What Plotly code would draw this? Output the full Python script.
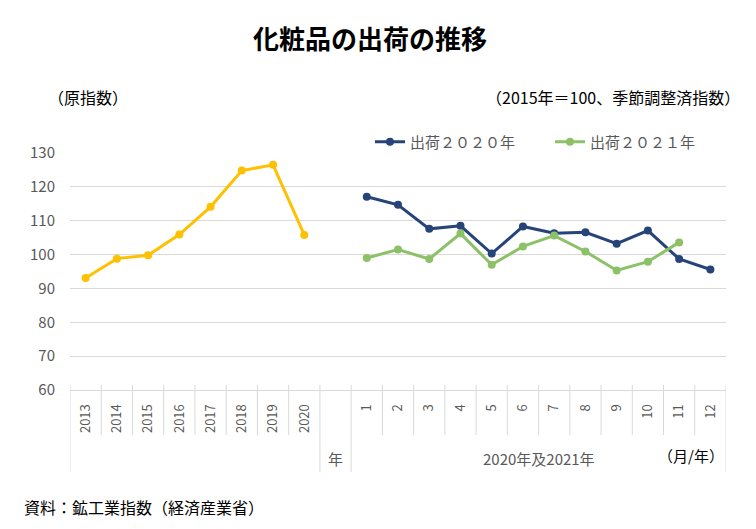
import plotly.graph_objects as go

# ---- data ----
years = ["2013", "2014", "2015", "2016", "2017", "2018", "2019", "2020"]
year_values = [93.1, 98.8, 99.8, 105.9, 114.1, 124.8, 126.5, 105.8]
months = ["1", "2", "3", "4", "5", "6", "7", "8", "9", "10", "11", "12"]
ship_2020 = [117.1, 114.7, 107.6, 108.5, 100.3, 108.3, 106.3, 106.6, 103.2, 107.1, 98.7, 95.6]
ship_2021 = [99.0, 101.5, 98.7, 106.2, 97.0, 102.4, 105.6, 100.9, 95.3, 97.9, 103.6]
gap_label = ""
group_year_label = "年"
group_month_label = "2020年及2021年"
y_ticks = [60, 70, 80, 90, 100, 110, 120, 130]

FONT = "Noto Sans CJK JP"
GRID = "#d9d9d9"
TXT = "#595959"

tick_labels = years + [gap_label] + months
n = len(tick_labels)
x_years = list(range(len(years)))
x_months = [len(years) + 1 + i for i in range(len(months))]

fig = go.Figure()
fig.add_trace(go.Scatter(x=x_years, y=year_values, mode="lines+markers",
                         line=dict(color="#FFC000", width=3),
                         marker=dict(size=8, color="#FFC000"),
                         showlegend=False, name="年"))
fig.add_trace(go.Scatter(x=x_months, y=ship_2020, mode="lines+markers",
                         line=dict(color="#264478", width=3),
                         marker=dict(size=8, color="#264478"),
                         name="出荷２０２０年"))
fig.add_trace(go.Scatter(x=x_months[:len(ship_2021)], y=ship_2021, mode="lines+markers",
                         line=dict(color="#8CC168", width=3),
                         marker=dict(size=8, color="#8CC168"),
                         name="出荷２０２１年"))

W, H = 756, 529
L, R, T, B = 70, 30, 153, 139
PW, PH = W - L - R, H - T - B


def px(xp, yp):
    return (xp - L) / PW, (H - B - yp) / PH


def py(yp):
    return (H - B - yp) / PH


shapes = []
for i in range(n + 1):
    b = i - 0.5
    shapes.append(dict(type="line", xref="x", yref="y domain", x0=b, x1=b,
                       y0=py(385), y1=py(435), line=dict(color=GRID, width=1)))
for b in [-0.5, len(years) - 0.5, len(years) + 0.5, n - 0.5]:
    shapes.append(dict(type="line", xref="x", yref="y domain", x0=b, x1=b,
                       y0=py(435), y1=py(472), line=dict(color=GRID, width=1)))

annotations = []
tx, ty = px(370, 38)
annotations.append(dict(text="<b>化粧品の出荷の推移</b>", x=tx, y=ty, xref="paper", yref="paper",
                        xanchor="center", yanchor="middle",
                        showarrow=False, font=dict(size=26, color="#000000", family=FONT)))
annotations.append(dict(text=group_year_label, xref="x", yref="y domain", x=len(years),
                        y=py(458), xanchor="center", yanchor="middle", showarrow=False,
                        font=dict(size=15, color=TXT, family=FONT)))
annotations.append(dict(text=group_month_label, xref="x", yref="y domain",
                        x=(x_months[0] + x_months[-1]) / 2, y=py(458),
                        xanchor="center", yanchor="middle", showarrow=False,
                        font=dict(size=15, color=TXT, family=FONT)))
annotations.append(dict(text="（月/年）", xref="x", yref="y domain", x=x_months[-1] + 0.5,
                        xanchor="right", yanchor="middle", y=py(455), showarrow=False,
                        font=dict(size=15, color="#000000", family=FONT)))
lx, ly = px(46, 97)
annotations.append(dict(text="（原指数）", x=lx, y=ly, xref="paper", yref="paper",
                        xanchor="left", yanchor="middle", showarrow=False,
                        font=dict(size=16, color="#000000", family=FONT)))
rx, ry = px(742, 97)
annotations.append(dict(text="（2015年＝100、季節調整済指数）", x=rx, y=ry, xref="paper",
                        yref="paper", xanchor="right", yanchor="middle", showarrow=False,
                        font=dict(size=16, color="#000000", family=FONT)))
sx, sy = px(22, 507)
annotations.append(dict(text="資料：鉱工業指数（経済産業省）", x=sx, y=sy, xref="paper",
                        yref="paper", xanchor="left", yanchor="middle", showarrow=False,
                        font=dict(size=16, color="#000000", family=FONT)))

legx, legy = px(370, 142)

fig.update_layout(
    width=W, height=H,
    margin=dict(l=L, r=R, t=T, b=B),
    paper_bgcolor="white", plot_bgcolor="white",
    font=dict(family=FONT, color=TXT),
    showlegend=True,
    legend=dict(orientation="h", x=legx, y=legy, xanchor="left", yanchor="middle",
                font=dict(size=15, color=TXT, family=FONT), entrywidth=135,
                itemwidth=30, bgcolor="rgba(0,0,0,0)"),
    xaxis=dict(range=[-0.5, n - 0.5], tickmode="array",
               tickvals=list(range(n)), ticktext=tick_labels, tickangle=-90,
               showgrid=False, zeroline=False, showline=True, linecolor=GRID,
               ticks="", tickfont=dict(size=13, color=TXT, family=FONT),
               ticklabelstandoff=8, fixedrange=True),
    yaxis=dict(range=[60, 130], tickvals=y_ticks, showgrid=True, gridcolor=GRID,
               zeroline=False, showline=False, ticks="",
               tickfont=dict(size=15, color=TXT, family=FONT), ticklabelstandoff=14,
               fixedrange=True),
    shapes=shapes,
    annotations=annotations,
)

fig.write_html("out.html", config={"displayModeBar": False},
               post_script="document.body.style.margin='0';")
